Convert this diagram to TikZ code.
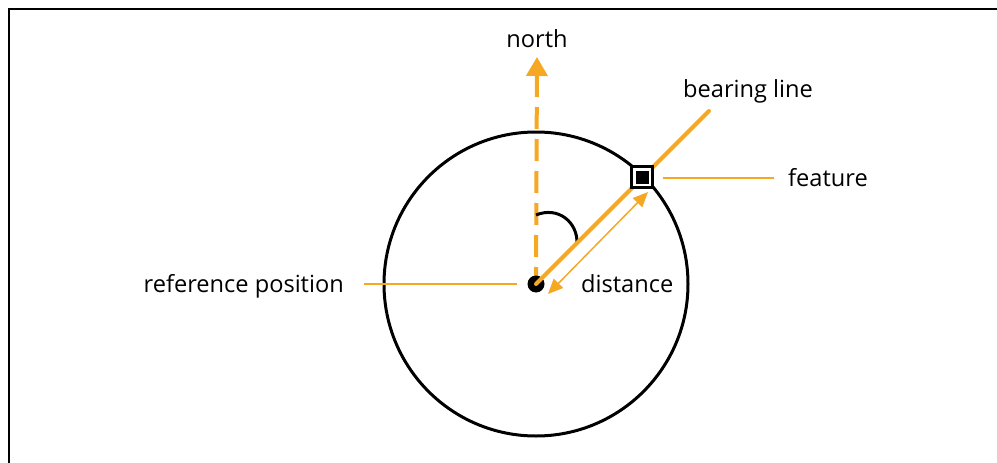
\documentclass[tikz,border=0pt]{standalone}
\usepackage{fontspec}
\setmainfont{Open Sans}
\usetikzlibrary{arrows.meta}
\definecolor{brg}{RGB}{246,168,35}
\tikzset{
  lbl/.style={inner sep=0pt, font=\fontsize{23.6}{27}\selectfont, text=black},
  leader/.style={draw=brg, line width=2pt},
  bearing/.style={draw=brg, line width=4pt},
}
\begin{document}
\begin{tikzpicture}[x=1pt,y=-1pt]
\useasboundingbox (0,0) rectangle (997,463);
% frame
\draw[line width=2pt] (8.5,463) -- (8.5,9) -- (997,9);
% circle
\coordinate (c) at (536,284);
\draw[line width=3pt] (c) circle (152);
% north
\coordinate (ntip) at (537,57);
\draw[bearing, dash pattern=on 22pt off 10pt, {Triangle[length=19pt,width=21pt]}-] (ntip) -- (c);
\node[lbl, anchor=base] (north) at (537,47) {north};
% angle arc
\draw[line width=3pt] (536,215) .. controls (558,206) and (578,222) .. (577,244);
% reference dot
\fill (c) circle (8.5);
% bearing line
\coordinate (bend) at (709,111);
\draw[bearing, line cap=round] (c) -- (bend);
\node[lbl, anchor=base west] (bl) at (683,97) {bearing line};
% feature
\node[draw, line width=3pt, minimum size=21pt, inner sep=0pt, fill=white] (feat) at (642,177) {};
\fill (feat.center) +(-6.5,-6.5) rectangle +(6.5,6.5);
\coordinate (fl1) at (663,178);
\coordinate (fl2) at (774,178);
\draw[leader] (fl1) -- (fl2);
\node[lbl, anchor=base west] (featl) at (788,186) {feature};
% reference position
\coordinate (rl1) at (364,284);
\coordinate (rl2) at (517,284);
\draw[leader] (rl1) -- (rl2);
\node[lbl, anchor=base east] (refl) at (344,292) {reference position};
% distance
\coordinate (d1) at (548,294);
\coordinate (d2) at (648,192);
\draw[draw=brg, fill=brg, line width=1.5pt, {Triangle[length=15pt,width=13pt]}-{Triangle[length=15pt,width=13pt]}] (d1) -- (d2);
\node[lbl, anchor=base west] (dist) at (581,292) {distance};
\end{tikzpicture}
\end{document}
